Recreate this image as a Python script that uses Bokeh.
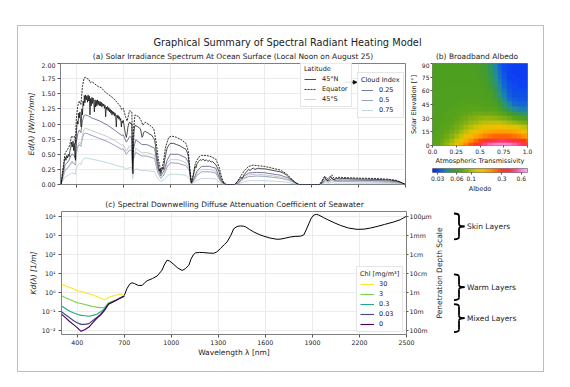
import numpy as np
from bokeh.plotting import figure
from bokeh.models import (Range1d, FixedTicker, Legend, LegendItem, Arrow, NormalHead,
                          LogColorMapper, LinearColorMapper, LogAxis, Spacer,
                          PrintfTickFormatter, CustomLabelingPolicy)
from bokeh.layouts import column, row
from bokeh.core.properties import value
from bokeh.embed import file_html
from bokeh.resources import INLINE

FONT = "DejaVu Sans"

# ---------------- panel (a) data: spectral irradiance ----------------
WL_EQ = [300,305,310,320,330,340,350,360,370,380,390,395,400,410,420,430,440,450,460,470,
         480,490,500,520,540,560,580,600,620,640,660,680,690,700,715,725,740,755,760,765,
         775,800,815,825,840,870,895,910,925,940,955,970,990,1010,1040,1070,1100,1115,1125,1135,
         1145,1160,1180,1200,1230,1260,1290,1310,1330,1345,1360,1410,1425,1445,1470,1500,1530,1560,1600,1650,
         1700,1740,1770,1800,1820,1950,1965,1985,2000,2015,2030,2045,2070,2100,2150,2200,2300,2380,2440,2470,
         2490,2500]
EQUATOR = [0,0.02,0.15,0.35,0.52,0.56,0.60,0.66,0.80,0.78,0.80,0.68,1.05,1.30,1.38,1.32,1.62,1.76,1.77,1.75,
           1.74,1.68,1.70,1.66,1.62,1.60,1.54,1.50,1.46,1.42,1.36,1.30,1.24,1.26,1.12,1.05,1.22,1.20,0.40,0.90,
           1.15,1.12,1.05,0.98,1.03,0.98,0.92,0.70,0.40,0.22,0.35,0.62,0.78,0.80,0.78,0.74,0.68,0.55,0.25,0.04,
           0.15,0.35,0.45,0.48,0.48,0.46,0.42,0.30,0.10,0.02,0.0,0.0,0.04,0.12,0.22,0.30,0.32,0.31,0.30,0.27,
           0.24,0.18,0.10,0.03,0.0,0.0,0.05,0.14,0.09,0.12,0.16,0.10,0.12,0.115,0.11,0.105,0.10,0.09,0.07,0.04,
           0.01,0.0]

WL_N = [300,305,310,315,320,325,330,335,340,345,350,355,360,365,370,375,380,384,388,392,
        396,400,404,408,412,416,420,424,428,432,436,440,444,448,452,456,460,464,468,472,
        476,480,484,488,492,496,500,504,508,512,516,520,524,528,532,536,540,544,548,552,
        556,560,564,568,572,576,580,584,588,592,596,600,604,608,612,616,620,624,628,632,
        636,640,644,648,652,656,660,664,668,672,676,680,684,688,692,696,700,705,710,715,
        720,725,730,735,740,745,750,755,759,762,765,768,772,776,780,790,800,810,815,820,
        825,830,840,850,860,870,880,890,900,905,910,915,920,925,930,935,940,945,950,955,
        960,965,970,975,980,990,1000,1020,1040,1060,1080,1100,1110,1115,1120,1125,1130,1135,1140,1145,
        1150,1155,1160,1165,1170,1180,1190,1200,1210,1220,1230,1240,1250,1260,1270,1280,1290,1300,1310,1320,
        1330,1340,1350,1410,1420,1430,1440,1450,1460,1470,1480,1490,1500,1510,1520,1530,1540,1560,1580,1600,
        1620,1640,1660,1680,1700,1720,1740,1760,1780,1800,1815,1955,1965,1975,1985,1995,2005,2015,2025,2035,
        2045,2060,2080,2100,2150,2200,2250,2300,2350,2400,2440,2470,2490,2500]
NORTH45 = [0,0.01,0.12,0.20,0.30,0.38,0.45,0.40,0.48,0.44,0.50,0.46,0.55,0.60,0.70,0.62,0.72,0.56,0.68,0.45,
           0.40,0.80,0.95,1.05,1.00,1.18,1.10,1.20,1.05,0.95,1.25,1.15,1.38,1.30,1.47,1.35,1.48,1.40,1.46,1.36,
           1.48,1.38,1.46,1.15,1.42,1.30,1.44,1.34,1.43,1.36,1.20,1.40,1.28,1.39,1.30,1.40,1.32,1.38,1.30,1.37,
           1.30,1.36,1.28,1.34,1.30,1.33,1.26,1.31,1.12,1.28,1.24,1.29,1.22,1.27,1.20,1.25,1.18,1.23,1.15,1.21,
           1.16,1.20,1.13,1.18,1.12,0.95,1.15,1.10,1.14,1.08,1.12,1.06,1.09,0.95,1.05,1.02,1.06,0.98,0.90,0.82,
           0.78,0.85,0.95,1.00,1.03,1.01,1.02,0.98,0.30,0.18,0.60,0.85,0.95,0.98,0.97,0.96,0.94,0.92,0.85,0.78,
           0.80,0.86,0.88,0.86,0.85,0.83,0.82,0.78,0.74,0.66,0.55,0.45,0.38,0.30,0.22,0.26,0.18,0.22,0.28,0.25,
           0.32,0.42,0.48,0.55,0.60,0.65,0.68,0.68,0.66,0.64,0.61,0.58,0.52,0.46,0.35,0.20,0.08,0.03,0.06,0.12,
           0.18,0.25,0.30,0.28,0.34,0.38,0.41,0.40,0.42,0.39,0.41,0.38,0.40,0.37,0.38,0.35,0.33,0.28,0.22,0.12,
           0.06,0.02,0.0,0.0,0.02,0.05,0.08,0.12,0.10,0.16,0.19,0.22,0.25,0.23,0.26,0.27,0.25,0.27,0.26,0.26,
           0.25,0.24,0.23,0.22,0.21,0.19,0.16,0.11,0.07,0.03,0.0,0.0,0.03,0.08,0.12,0.08,0.06,0.10,0.13,0.09,
           0.08,0.10,0.095,0.10,0.095,0.09,0.088,0.085,0.08,0.075,0.06,0.035,0.01,0.0]

WL_S = [300,310,320,330,350,370,380,395,400,410,420,430,440,450,460,480,500,550,600,650,
        690,700,720,740,755,760,765,780,820,850,900,920,940,960,980,1000,1050,1100,1120,1135,
        1150,1170,1200,1250,1290,1320,1350,1410,1430,1470,1500,1550,1600,1650,1700,1750,1790,1820,1950,1970,
        1990,2010,2030,2050,2100,2200,2300,2400,2460,2500]
SOUTH45 = [0,0.05,0.15,0.24,0.29,0.38,0.38,0.34,0.52,0.65,0.70,0.67,0.83,0.91,0.93,0.91,0.89,0.84,0.79,0.72,
           0.65,0.66,0.55,0.64,0.63,0.18,0.45,0.60,0.52,0.53,0.48,0.25,0.10,0.18,0.35,0.41,0.41,0.36,0.27,0.01,
           0.07,0.19,0.25,0.25,0.22,0.06,0.0,0.0,0.02,0.11,0.16,0.17,0.16,0.145,0.125,0.085,0.03,0.0,0.0,0.03,
           0.07,0.05,0.08,0.06,0.06,0.055,0.052,0.045,0.03,0.0]
CLOUD25 = [0,0.09,0.22,0.33,0.38,0.50,0.50,0.44,0.68,0.84,0.90,0.86,1.05,1.14,1.15,1.13,1.10,1.05,0.98,0.89,
           0.81,0.82,0.70,0.79,0.78,0.26,0.58,0.74,0.66,0.66,0.60,0.28,0.14,0.23,0.40,0.50,0.50,0.44,0.34,0.02,
           0.09,0.22,0.30,0.30,0.27,0.07,0.0,0.0,0.02,0.14,0.19,0.20,0.195,0.175,0.155,0.11,0.04,0.0,0.0,0.03,
           0.09,0.06,0.10,0.07,0.075,0.07,0.065,0.058,0.04,0.0]
CLOUD50 = [0,0.07,0.16,0.24,0.28,0.36,0.36,0.32,0.50,0.62,0.66,0.63,0.77,0.84,0.85,0.83,0.81,0.76,0.71,0.64,
           0.58,0.59,0.50,0.57,0.56,0.18,0.42,0.53,0.47,0.47,0.43,0.20,0.10,0.16,0.29,0.36,0.35,0.31,0.24,0.01,
           0.06,0.15,0.21,0.21,0.19,0.05,0.0,0.0,0.015,0.10,0.13,0.14,0.135,0.12,0.105,0.075,0.03,0.0,0.0,0.02,
           0.06,0.04,0.065,0.05,0.05,0.047,0.044,0.038,0.025,0.0]
CLOUD75 = [0,0.04,0.09,0.13,0.15,0.19,0.19,0.17,0.26,0.32,0.35,0.33,0.40,0.43,0.44,0.43,0.42,0.39,0.36,0.32,
           0.29,0.29,0.25,0.28,0.28,0.09,0.21,0.26,0.23,0.23,0.21,0.10,0.05,0.08,0.14,0.17,0.17,0.15,0.11,0.0,
           0.03,0.07,0.10,0.10,0.09,0.02,0.0,0.0,0.007,0.045,0.06,0.065,0.063,0.056,0.05,0.035,0.013,0.0,0.0,0.01,
           0.03,0.02,0.03,0.022,0.024,0.022,0.02,0.018,0.012,0.0]

WL_TICKS = [400, 700, 1000, 1300, 1600, 1900, 2200, 2500]
ED_TICKS = [0, 0.25, 0.5, 0.75, 1.0, 1.25, 1.5, 1.75, 2.0]

# ---------------- panel (b) data: broadband albedo ----------------
TRANSMISSIVITY = [0.00,0.05,0.10,0.15,0.20,0.25,0.30,0.35,0.40,0.45,0.50,
                  0.55,0.60,0.65,0.70,0.75,0.80,0.85,0.90,0.95,1.00]
ELEVATION = [0,5,10,15,20,25,30,35,40,45,50,55,60,65,70,75,80,85,90]
ALBEDO = [
 [.067,.072,.080,.092,.110,.135,.170,.215,.270,.335,.410,.490,.560,.610,.630,.625,.600,.550,.480,.410,.340],
 [.066,.070,.076,.085,.098,.116,.140,.170,.205,.245,.290,.335,.375,.405,.420,.420,.405,.378,.340,.300,.260],
 [.065,.068,.072,.078,.087,.099,.114,.133,.155,.178,.200,.220,.236,.247,.252,.251,.245,.234,.218,.200,.180],
 [.064,.066,.069,.073,.079,.087,.097,.110,.124,.140,.155,.168,.178,.185,.188,.187,.182,.174,.164,.152,.140],
 [.063,.065,.067,.070,.074,.080,.087,.096,.106,.116,.126,.134,.140,.143,.143,.140,.135,.128,.120,.112,.105],
 [.063,.064,.066,.068,.071,.075,.080,.086,.092,.098,.104,.108,.110,.110,.108,.104,.099,.093,.087,.082,.079],
 [.063,.064,.065,.067,.069,.072,.075,.079,.083,.087,.090,.091,.091,.089,.086,.082,.076,.070,.065,.061,.059],
 [.063,.064,.065,.066,.067,.069,.071,.073,.075,.077,.078,.078,.077,.075,.071,.066,.059,.053,.049,.047,.046],
 [.063,.064,.064,.065,.066,.067,.068,.069,.070,.070,.070,.069,.068,.066,.061,.054,.047,.042,.040,.039,.039],
 [.063,.063,.064,.064,.065,.065,.066,.066,.066,.066,.066,.065,.064,.061,.055,.047,.040,.036,.035,.035,.035],
 [.063,.063,.063,.064,.064,.064,.065,.065,.065,.065,.064,.063,.062,.057,.050,.042,.036,.034,.033,.033,.033],
 [.063,.063,.063,.063,.063,.064,.064,.064,.064,.064,.063,.062,.060,.054,.046,.039,.034,.032,.032,.032,.032],
 [.063,.063,.063,.063,.063,.063,.063,.063,.063,.063,.062,.061,.058,.051,.043,.037,.033,.031,.031,.031,.031],
 [.062,.062,.062,.063,.063,.063,.063,.063,.063,.062,.062,.060,.056,.048,.041,.035,.032,.031,.030,.030,.030],
 [.062,.062,.062,.062,.062,.062,.062,.062,.062,.062,.061,.059,.054,.046,.039,.034,.031,.030,.030,.030,.030],
 [.062,.062,.062,.062,.062,.062,.062,.062,.062,.061,.060,.058,.052,.044,.037,.033,.030,.030,.029,.029,.029],
 [.062,.062,.062,.062,.062,.062,.062,.062,.061,.061,.059,.057,.050,.042,.036,.032,.030,.029,.029,.029,.029],
 [.062,.062,.062,.062,.062,.062,.062,.062,.061,.060,.058,.056,.049,.041,.035,.031,.030,.029,.029,.029,.029],
 [.062,.062,.062,.062,.062,.062,.062,.062,.061,.060,.058,.055,.048,.040,.034,.031,.030,.029,.029,.029,.029],
]
ALBEDO_LOW, ALBEDO_HIGH = 0.025, 0.75
ALBEDO_TICKS = [0.03, 0.06, 0.1, 0.3, 0.6]
TRANS_TICKS = [0.0, 0.25, 0.5, 0.75, 1.0]
ELEV_TICKS = [0, 15, 30, 45, 60, 75, 90]

# colour map anchors (albedo value -> colour)
CMAP_VALUES = [0.025, 0.03, 0.035, 0.04, 0.045, 0.05, 0.06, 0.07, 0.085, 0.1, 0.12, 0.15,
               0.2, 0.25, 0.3, 0.4, 0.5, 0.6, 0.75]
CMAP_COLORS = ["#0a22e8", "#0c44f2", "#1466d4", "#1c86a8", "#279480", "#349650", "#4a9e22",
               "#5aa41a", "#82b012", "#a8bc0c", "#d8c404", "#f6bc00", "#ff9400", "#ff6600",
               "#ff3a18", "#ff3050", "#ff4c98", "#ff7cd4", "#ffb4f4"]

# ---------------- panel (c) data: diffuse attenuation ----------------
WL_K = [700,717,735,750,765,790,815,830,846,880,910,941,955,973,990,1016,1040,1069,1090,1112,
        1125,1140,1154,1180,1207,1240,1271,1290,1313,1340,1356,1380,1398,1420,1440,1460,1473,1500,1526,1560,
        1590,1630,1675,1700,1730,1760,1790,1824,1845,1860,1877,1893,1909,1925,1941,1970,1994,2040,2079,2130,
        2185,2230,2270,2312,2360,2419,2460,2500]
KD_WATER = [0.7,1.6,2.8,3.3,3.0,2.4,2.4,3.3,4.2,5.5,7.5,15,28,50,45,30,20,14.5,18,27,
            55,95,120,128,125,118,115,135,200,340,450,1000,2200,2900,3100,3000,2800,2000,1500,1100,
            900,720,620,640,720,820,880,900,1050,1900,4000,8000,11500,12500,11500,8500,6800,4500,3300,2400,
            2050,2100,2400,2900,3700,5000,6500,10000]
WL_C = [300,325,350,375,400,425,450,475,500,525,550,575,600,625,650,675,700]
CHL_LABELS = ["30", "3", "0.3", "0.03", "0"]
KD_CHL = [
    [2.8,2.3,1.9,1.6,1.25,1.17,1.0,0.87,0.76,0.63,0.52,0.43,0.56,0.66,0.76,0.89,0.70],
    [0.70,0.55,0.45,0.37,0.30,0.27,0.24,0.21,0.19,0.175,0.165,0.17,0.30,0.36,0.42,0.55,0.70],
    [0.20,0.15,0.11,0.09,0.075,0.065,0.062,0.058,0.065,0.075,0.10,0.15,0.27,0.34,0.42,0.55,0.68],
    [0.10,0.07,0.05,0.035,0.027,0.022,0.022,0.024,0.035,0.05,0.075,0.13,0.26,0.33,0.41,0.53,0.66],
    [0.075,0.05,0.032,0.022,0.015,0.0095,0.012,0.016,0.027,0.045,0.07,0.12,0.25,0.32,0.40,0.52,0.65],
]
CHL_COLORS = ["#fde725", "#7ad151", "#22a884", "#414487", "#440154"]
DECADES = [1e-2, 1e-1, 1, 10, 100, 1e3, 1e4]
DECADE_LABELS = {1e-2: "10⁻²", 1e-1: "10⁻¹", 1: "10⁰", 10: "10¹", 100: "10²",
                 1e3: "10³", 1e4: "10⁴"}
DEPTH_LABELS = {1e-2: "100m", 1e-1: "10m", 1: "1m", 10: "10cm", 100: "1cm",
                1e3: "1mm", 1e4: "100μm"}
KD_LOW, KD_HIGH = 0.0065, 17600
LAYERS = [("Skin Layers", 13800, 617), ("Warm Layers", 9.1, 0.41), ("Mixed Layers", 0.25, 0.0087)]

TXT = "#222222"
GRID = "#e6e6e6"
SPINE = "#808080"


def build_palette(n=256):
    lo, hi = np.log10(ALBEDO_LOW), np.log10(ALBEDO_HIGH)
    pos = (np.log10(CMAP_VALUES) - lo) / (hi - lo)
    rgb = np.array([[int(c[i:i + 2], 16) for i in (1, 3, 5)] for c in CMAP_COLORS], float)
    out = []
    for t in np.linspace(0, 1, n):
        r, g, b = (int(round(np.interp(t, pos, rgb[:, k]))) for k in range(3))
        out.append("#%02x%02x%02x" % (r, g, b))
    return out


PALETTE = build_palette()


def base_fig(**kw):
    p = figure(output_backend="svg", toolbar_location=None, **kw)
    p.background_fill_color = "white"
    p.border_fill_color = "white"
    return p


def style_axes(p, tick_size="6.3px", label_size="7.5px", tick_out=3, standoff=2):
    for ax in p.axis:
        ax.axis_line_color = None
        ax.major_tick_line_color = "#555555"
        ax.major_tick_in = 0
        ax.major_tick_out = tick_out
        ax.minor_tick_line_color = None
        ax.major_label_standoff = standoff
        ax.major_label_text_font = FONT
        ax.major_label_text_font_size = tick_size
        ax.major_label_text_color = TXT
        ax.axis_label_text_font = FONT
        ax.axis_label_text_font_size = label_size
        ax.axis_label_text_font_style = "normal"
        ax.axis_label_text_color = TXT
    p.outline_line_color = SPINE
    p.outline_line_width = 1


def blank_fig(width, height, x_range, y_range, **kw):
    p = base_fig(width=width, height=height, x_range=x_range, y_range=y_range,
                 x_axis_location=None, y_axis_location=None, min_border=0, **kw)
    p.outline_line_color = None
    p.grid.visible = False
    return p


def style_legend(leg):
    leg.label_text_font = FONT
    leg.label_text_font_size = "6.5px"
    leg.label_text_color = TXT
    leg.title_text_font = FONT
    leg.title_text_font_size = "6.5px"
    leg.title_text_font_style = "normal"
    leg.title_text_color = TXT
    leg.glyph_width = 12
    leg.glyph_height = 8
    leg.label_height = 8
    leg.label_standoff = 6
    leg.spacing = 2
    leg.padding = 3
    leg.margin = 0
    leg.title_standoff = 2
    leg.border_line_color = "#cccccc"
    leg.border_line_width = 1
    leg.background_fill_alpha = 0.85


# ---------------- header ----------------
W = 525
head = blank_fig(W, 36, Range1d(0, W), Range1d(0, 36))
head.text(x=[269], y=[20.5], text=["Graphical Summary of Spectral Radiant Heating Model"],
          text_font=value(FONT), text_font_size=value("9.8px"), text_color=TXT,
          text_align="center", text_baseline="middle")
head.text(x=[214.5, 458.5], y=[6.5, 6.5],
          text=["(a) Solar Irradiance Spectrum At Ocean Surface (Local Noon on August 25)",
                "(b) Broadband Albedo"],
          text_font=value(FONT), text_font_size=value("7.5px"), text_color=TXT,
          text_align="center", text_baseline="middle")

# ---------------- panel (a) ----------------
pa = base_fig(width=388, height=133, x_range=Range1d(300, 2500), y_range=Range1d(0, 2.0),
              min_border_left=42, min_border_right=1, min_border_top=1, min_border_bottom=9)
r_c75 = pa.line(WL_S, CLOUD75, color="#b7d4da", line_width=0.9)
r_c50 = pa.line(WL_S, CLOUD50, color="#8e98b4", line_width=0.9)
r_s = pa.line(WL_S, SOUTH45, color="#c4c4c4", line_width=0.9)
r_c25 = pa.line(WL_S, CLOUD25, color="#666e90", line_width=0.9)
r_eq = pa.line(WL_EQ, EQUATOR, color="black", line_width=0.8, line_dash="2 1")
r_n = pa.line(WL_N, NORTH45, color="black", line_width=0.7)
style_axes(pa, standoff=2)
pa.xaxis.ticker = FixedTicker(ticks=WL_TICKS)
pa.xaxis.major_label_policy = CustomLabelingPolicy(
    code="for (const i of indices) { indices.unset(i) }\nreturn indices")
pa.xaxis.major_label_standoff = 0
pa.yaxis.ticker = FixedTicker(ticks=ED_TICKS)
pa.yaxis.formatter = PrintfTickFormatter(format="%.2f")
pa.yaxis.axis_label = "Ed(λ) [W/m²/nm]"
pa.yaxis.axis_label_text_font_style = "italic"
pa.yaxis.axis_label_standoff = 2
pa.xgrid.ticker = FixedTicker(ticks=WL_TICKS)
pa.ygrid.ticker = FixedTicker(ticks=ED_TICKS)
pa.grid.grid_line_color = GRID
pa.grid.grid_line_width = 0.8

leg_lat = Legend(items=[LegendItem(label="45°N", renderers=[r_n]),
                        LegendItem(label="Equator", renderers=[r_eq]),
                        LegendItem(label="45°S", renderers=[r_s])],
                 title="Latitude", location=(240, 77))
leg_cld = Legend(items=[LegendItem(label="0.25", renderers=[r_c25]),
                        LegendItem(label="0.5", renderers=[r_c50]),
                        LegendItem(label="0.75", renderers=[r_c75])],
                 title="Cloud Index", location=(297, 66))
for lg in (leg_lat, leg_cld):
    style_legend(lg)
    pa.add_layout(lg)
pa.add_layout(Arrow(end=NormalHead(size=4, line_color="black", fill_color="black", line_width=0.5),
                    x_start=2110, y_start=1.69, x_end=2192, y_end=1.69,
                    line_width=0.7, line_color="black"))

# ---------------- panel (b) ----------------
pb = base_fig(width=136, height=105, x_range=Range1d(0, 1), y_range=Range1d(0, 90),
              min_border_left=20, min_border_right=15, min_border_top=1, min_border_bottom=19)
dT = TRANSMISSIVITY[1] - TRANSMISSIVITY[0]
dE = ELEVATION[1] - ELEVATION[0]
pb.image(image=[np.array(ALBEDO)], x=TRANSMISSIVITY[0] - dT / 2, y=ELEVATION[0] - dE / 2,
         dw=TRANSMISSIVITY[-1] - TRANSMISSIVITY[0] + dT, dh=ELEVATION[-1] - ELEVATION[0] + dE,
         color_mapper=LogColorMapper(palette=PALETTE, low=ALBEDO_LOW, high=ALBEDO_HIGH))
style_axes(pb, tick_size="6px", label_size="6.5px", tick_out=2, standoff=1)
pb.xaxis.ticker = FixedTicker(ticks=TRANS_TICKS)
pb.xaxis.major_label_overrides = {0.0: "0.0", 0.25: "0.25", 0.5: "0.5", 0.75: "0.75", 1.0: "1.0"}
pb.yaxis.ticker = FixedTicker(ticks=ELEV_TICKS)
pb.xaxis.axis_label = "Atmospheric Transmissivity"
pb.yaxis.axis_label = "Solar Elevation [°]"
pb.xaxis.axis_label_standoff = 0
pb.yaxis.axis_label_standoff = 1
pb.grid.visible = False

# colour bar
pcb = base_fig(width=136, height=28, x_axis_type="log",
               x_range=Range1d(ALBEDO_LOW, ALBEDO_HIGH), y_range=Range1d(0, 1),
               y_axis_location=None,
               min_border_left=20, min_border_right=15, min_border_top=1, min_border_bottom=22)
pcb.image(image=[np.arange(len(PALETTE)).reshape(1, -1)], x=ALBEDO_LOW, y=0,
          dw=ALBEDO_HIGH - ALBEDO_LOW, dh=1,
          color_mapper=LinearColorMapper(palette=PALETTE, low=-0.5, high=len(PALETTE) - 0.5))
style_axes(pcb, tick_size="6px", label_size="6.5px", tick_out=2, standoff=1)
pcb.xaxis.ticker = FixedTicker(ticks=ALBEDO_TICKS)
pcb.xaxis.major_label_overrides = {v: ("%g" % v) for v in ALBEDO_TICKS}
pcb.xaxis.axis_label = "Albedo"
pcb.xaxis.axis_label_standoff = 1
pcb.grid.visible = False

# ---------------- panel (c) header ----------------
head2 = blank_fig(W, 15, Range1d(0, W), Range1d(0, 15))
head2.text(x=[216], y=[6], text=["(c) Spectral Downwelling Diffuse Attenuation Coefficient of Seawater"],
           text_font=value(FONT), text_font_size=value("7.5px"), text_color=TXT,
           text_align="center", text_baseline="middle")

# ---------------- panel (c) ----------------
pc = base_fig(width=416, height=161, x_range=Range1d(300, 2500),
              y_range=Range1d(KD_LOW, KD_HIGH), y_axis_type="log",
              min_border_left=43, min_border_right=27, min_border_top=1, min_border_bottom=37)
pc.line(WL_K, KD_WATER, color="black", line_width=1.0)
chl_items = []
for lab, vals, col in zip(CHL_LABELS, KD_CHL, CHL_COLORS):
    rr = pc.line(WL_C, vals, color=col, line_width=1.1)
    chl_items.append(LegendItem(label=lab, renderers=[rr]))
right_ax = LogAxis(ticker=FixedTicker(ticks=DECADES), major_label_overrides=DEPTH_LABELS)
pc.add_layout(right_ax, "right")
style_axes(pc, standoff=3)
right_ax.major_tick_out = 2
right_ax.major_label_standoff = 1
pc.xaxis.ticker = FixedTicker(ticks=WL_TICKS)
pc.xaxis.axis_label = "Wavelength λ [nm]"
pc.xaxis.axis_label_standoff = 0
pc.xaxis.major_label_standoff = 2
pc.yaxis[0].ticker = FixedTicker(ticks=DECADES)
pc.yaxis[0].major_label_overrides = DECADE_LABELS
pc.yaxis[0].axis_label = "Kd(λ) [1/m]"
pc.yaxis[0].axis_label_text_font_style = "italic"
pc.yaxis[0].axis_label_standoff = 1
pc.xgrid.ticker = FixedTicker(ticks=WL_TICKS)
pc.ygrid.ticker = FixedTicker(ticks=DECADES)
pc.grid.grid_line_color = GRID
pc.grid.grid_line_width = 0.8
leg_chl = Legend(items=chl_items, title="Chl [mg/m³]", location=(295, 2))
style_legend(leg_chl)
leg_chl.glyph_width = 14
leg_chl.label_standoff = 5
pc.add_layout(leg_chl)

# ---------------- braces / depth scale label ----------------
pbr = blank_fig(109, 161, Range1d(0, 109), Range1d(KD_LOW, KD_HIGH), y_axis_type="log")
pbr.min_border_top = 1
pbr.min_border_bottom = 37
mid = 10 ** ((np.log10(KD_LOW) + np.log10(KD_HIGH)) / 2)
pbr.text(x=[5], y=[mid], text=["Penetration Depth Scale"], angle=np.pi / 2,
         text_font=value(FONT), text_font_size=value("7.5px"), text_color=TXT,
         text_align="center", text_baseline="middle")
x0, x1, x2, rr_ = 19.5, 24.5, 30.0, 0.13
for name, top, bot in LAYERS:
    lt, lb = np.log10(top), np.log10(bot)
    lm = (lt + lb) / 2
    Y = lambda v: 10 ** v
    pbr.quadratic(x0=[x0, x1, x2, x1], y0=[Y(lt), Y(lm + rr_), Y(lm), Y(lb + rr_)],
                  x1=[x1, x2, x1, x0], y1=[Y(lt - rr_), Y(lm), Y(lm - rr_), Y(lb)],
                  cx=[x1, x1, x1, x1], cy=[Y(lt), Y(lm), Y(lm), Y(lb)],
                  line_color="black", line_width=1.8)
    pbr.segment(x0=[x1, x1], y0=[Y(lt - rr_), Y(lm - rr_)], x1=[x1, x1], y1=[Y(lm + rr_), Y(lb + rr_)],
                line_color="black", line_width=1.8)
    pbr.text(x=[32.5], y=[Y(lm)], text=[name], text_font=value(FONT),
             text_font_size=value("7.5px"), text_color=TXT,
             text_align="left", text_baseline="middle")

# ---------------- layout ----------------
row1 = row(pa, column(pb, pcb))
row2 = row(pc, pbr)
framed = column(head, row1, head2, row2, styles={"border": "1px solid #bdbdbd"})
layout = column(Spacer(height=25), row(Spacer(width=17), framed))

open("out.html", "w").write(file_html(layout, INLINE))
